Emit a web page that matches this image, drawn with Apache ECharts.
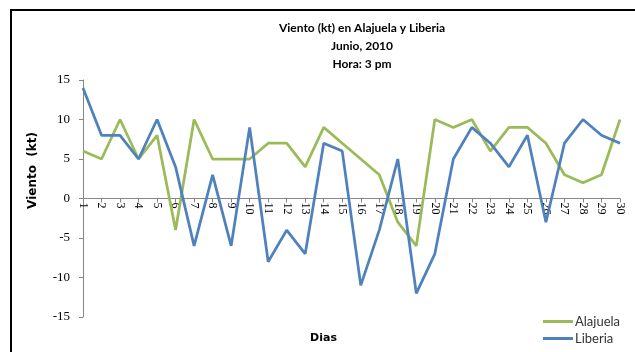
<!DOCTYPE html>
<html>
<head>
<meta charset="utf-8">
<script src="https://cdn.jsdelivr.net/npm/echarts@6/dist/echarts.min.js"></script>
<style>
  html, body { margin: 0; padding: 0; background: #fff; }
  #chart { width: 635px; height: 352px; }
</style>
</head>
<body>
<div id="chart"></div>
<script>
// Days of June 2010
const dias = ['1','2','3','4','5','6','7','8','9','10','11','12','13','14','15',
              '16','17','18','19','20','21','22','23','24','25','26','27','28','29','30'];
// Wind (kt) at 3 pm
const alajuela = [6, 5, 10, 5, 8, -4, 10, 5, 5, 5, 7, 7, 4, 9, 7,
                  5, 3, -3, -6, 10, 9, 10, 6, 9, 9, 7, 3, 2, 3, 10];
const liberia  = [14, 8, 8, 5, 10, 4, -6, 3, -6, 9, -8, -4, -7, 7, 6,
                  -11, -4, 5, -12, -7, 5, 9, 7, 4, 8, -3, 7, 10, 8, 7];
const yTicks = { min: -15, max: 15, interval: 5 };

const GRID_TOP = 80, GRID_BOTTOM = 35, H = 352;
// distance from plot bottom up to the zero line, so the category axis sits on y = 0
const plotH = H - GRID_TOP - GRID_BOTTOM;
const zeroShift = plotH * (0 - yTicks.min) / (yTicks.max - yTicks.min);

const chart = echarts.init(document.getElementById('chart'), null, { renderer: 'canvas' });
chart.setOption({
  backgroundColor: '#fff',
  animation: false,
  title: {
    text: 'Viento (kt) en Alajuela y Liberia\nJunio, 2010\nHora: 3 pm',
    left: 357, top: 14, textAlign: 'center',
    textStyle: { fontFamily: 'Lato', fontWeight: 'bold', fontSize: 12, lineHeight: 18, color: '#000' }
  },
  legend: {
    orient: 'vertical', left: 543, top: 315, height: 40, padding: 0,
    icon: 'rect', itemWidth: 30, itemHeight: 3, itemGap: 4,
    textStyle: { fontFamily: 'Lato', fontSize: 13, color: '#333', padding: [0, 0, 0, -3] },
    data: ['Alajuela', 'Liberia']
  },
  grid: { left: 83, right: 15, top: GRID_TOP, bottom: GRID_BOTTOM, containLabel: false, outerBoundsMode: 'none' },
  xAxis: {
    type: 'category', data: dias, boundaryGap: false,
    position: 'bottom', offset: -zeroShift,
    name: 'Dias', nameLocation: 'middle', nameGap: 134,
    nameTextStyle: { fontFamily: 'DejaVu Sans', fontWeight: 'bold', fontSize: 11, color: '#000', padding: [0, 56, 0, 0] },
    axisLine: { onZero: false, lineStyle: { color: '#868686', width: 1 } },
    axisTick: { show: true, alignWithLabel: true, length: 4, lineStyle: { color: '#868686' } },
    axisLabel: { rotate: -90, interval: 0, fontFamily: 'Liberation Serif', fontSize: 12, color: '#000', margin: 4 },
    splitLine: { show: false }
  },
  yAxis: {
    type: 'value', min: yTicks.min, max: yTicks.max, interval: yTicks.interval,
    name: 'Viento  (kt)', nameLocation: 'middle', nameGap: 44, nameRotate: 90,
    nameTextStyle: { fontFamily: 'DejaVu Sans', fontWeight: 'bold', fontSize: 12, color: '#000', padding: [0, 0, 0, 56] },
    axisLine: { show: true, lineStyle: { color: '#868686', width: 1 } },
    axisTick: { show: true, length: 4, lineStyle: { color: '#868686' } },
    axisLabel: { fontFamily: 'Liberation Serif', fontSize: 13, color: '#000', margin: 13 },
    splitLine: { show: false }
  },
  series: [
    {
      name: 'Alajuela', type: 'line', data: alajuela, symbol: 'none',
      lineStyle: { color: '#9BBB59', width: 2.75 }, itemStyle: { color: '#9BBB59' }
    },
    {
      name: 'Liberia', type: 'line', data: liberia, symbol: 'none',
      lineStyle: { color: '#4F81BD', width: 2.75 }, itemStyle: { color: '#4F81BD' }
    }
  ],
  graphic: [
    {
      type: 'polyline', silent: true,
      shape: { points: [[11, 352], [11, 10], [635, 10]] },
      style: { stroke: '#000', lineWidth: 2, fill: null }
    }
  ]
});
</script>
</body>
</html>
